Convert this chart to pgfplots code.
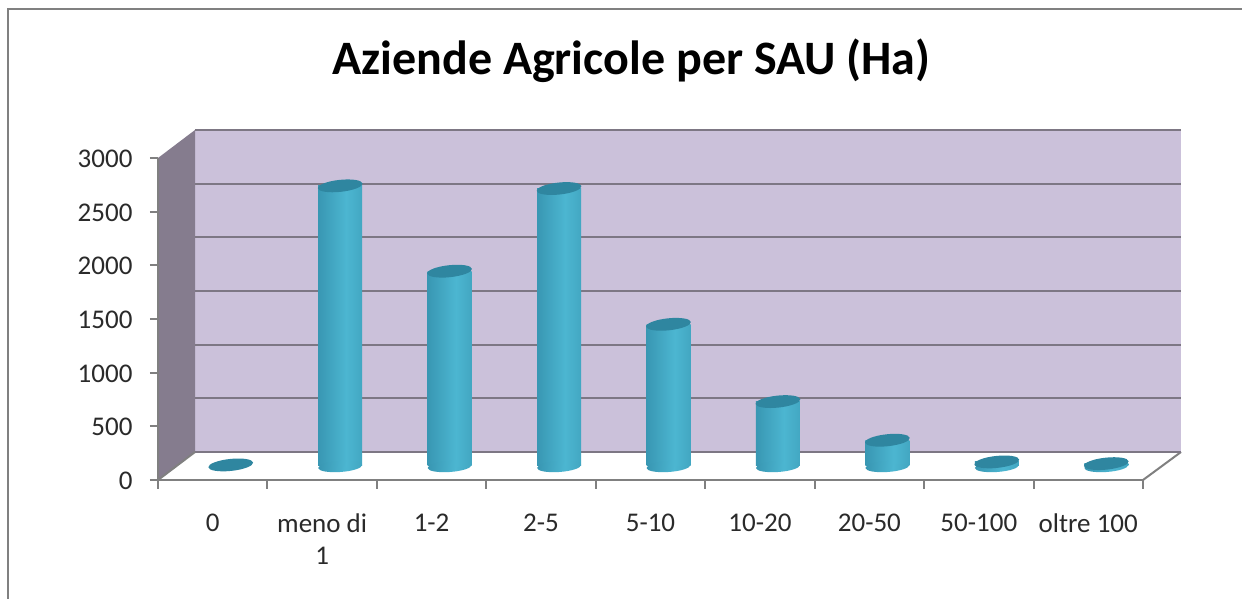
\documentclass[border=0pt]{standalone}
\usepackage{fontspec}
\setmainfont{Carlito}
\usepackage{pgfplots}
\pgfplotsset{compat=1.18}
\definecolor{wall}{HTML}{CBC1DA}
\definecolor{sidewall}{HTML}{857C8E}
\definecolor{gridc}{HTML}{7D7784}
\definecolor{axc}{HTML}{808080}
\definecolor{capc}{HTML}{2F86A0}
\definecolor{barbright}{HTML}{4CB6D1}
\definecolor{barmid}{HTML}{3896B2}
\definecolor{barmidr}{HTML}{42A6C1}
\definecolor{bardark}{HTML}{2A7189}
\definecolor{labc}{HTML}{2A2A2A}
\pgfdeclarehorizontalshading{cyl}{100bp}{
  color(0bp)=(bardark);
  color(5bp)=(bardark);
  color(24bp)=(barmid);
  color(57bp)=(barbright);
  color(76bp)=(barmidr);
  color(91bp)=(bardark);
  color(100bp)=(bardark)}
\pgfdeclareplotmark{captop}{%
  \pgftransformrotate{6}%
  \pgfpathellipse{\pgfpointorigin}{\pgfqpoint{22.5pt}{0pt}}{\pgfqpoint{0pt}{6pt}}%
  \pgfusepathqfill}
\pgfdeclareplotmark{capbase}{%
  \pgftransformyshift{-0.5pt}%
  \pgftransformrotate{4}%
  \pgfpathellipse{\pgfpointorigin}{\pgfqpoint{22pt}{0pt}}{\pgfqpoint{0pt}{5.5pt}}%
  \pgfshadepath{cyl}{-4}\pgfusepath{}}
\pgfplotstableread{
x y
0 10
1 2610
2 1815
3 2585
4 1320
5 600
6 240
7 38
8 22
}\valtable
\begin{document}
\begin{tikzpicture}[x=1pt,y=1pt]
\path[use as bounding box,fill=white] (0,0) rectangle (1242,599);
% outer frame
\draw[axc,line width=2.5pt] (8,0) -- (8,590) -- (1242,590);
% title
\node[font=\fontsize{48}{52}\selectfont\bfseries,text=black] at (631.5,538) {Aziende Agricole per SAU (Ha)};
% back wall with gridlines
\begin{axis}[name=wallaxis,at={(195pt,147pt)},anchor=south west,scale only axis,
  width=986pt,height=322pt,xmin=-0.5,xmax=8.5,ymin=0,ymax=3000,
  axis background/.style={fill=wall},
  axis line style={draw=none},xtick=\empty,ytick={0,500,...,3000},
  ymajorgrids,grid style={gridc,line width=2pt},major tick length=0pt,
  yticklabels={},clip=false]
\addplot[draw=none] coordinates {(0,0)};
\end{axis}
% side wall and floor
\fill[sidewall] (158,119) -- (195,147) -- (195,469) -- (158,441) -- cycle;
\draw[axc,line width=2pt] (158,119) -- (195,147);
\draw[axc,line width=2pt] (1143,119) -- (1181,147);
\draw[gridc,line width=2pt] (195,147) -- (1181,147);
\draw[gridc,line width=2pt] (195,469) -- (1181,469);
% front axes, ticks and labels
\begin{axis}[at={(158pt,119pt)},anchor=south west,scale only axis,
  width=985pt,height=322pt,xmin=-0.5,xmax=8.5,ymin=0,ymax=3000,
  axis lines*=left,axis line style={axc,line width=2pt,-},
  xtick={0,...,8},
  xticklabels={0,{meno di\\1},1-2,2-5,5-10,10-20,20-50,50-100,oltre 100},
  minor xtick={-0.5,0.5,...,8.5},
  ytick={0,500,...,3000},
  major x tick style={draw=none},
  minor x tick style={axc,line width=2pt},
  y tick style={axc,line width=2pt},
  tick align=outside,major tick length=8pt,minor tick length=9pt,
  /pgf/number format/assume math mode=true,
  /pgf/number format/1000 sep={},
  xticklabel style={font=\fontsize{27}{32}\selectfont,text=labc,align=center,anchor=north,yshift=-22pt},
  yticklabel style={font=\fontsize{27}{32}\selectfont,text=labc,xshift=-14pt,yshift=-1pt},
  clip=false]
\addplot[draw=none] coordinates {(0,0)};
\end{axis}
% cylinders, half way into the depth
\begin{axis}[at={(176pt,133pt)},anchor=south west,scale only axis,
  width=985pt,height=322pt,xmin=-0.5,xmax=8.5,ymin=0,ymax=3000,
  hide axis,clip=false]
\addplot[only marks,mark=capbase] coordinates {(1,0)(2,0)(3,0)(4,0)(5,0)(6,0)(7,0)(8,0)};
\pgfplotsset{cylbar/.style={ybar,bar width=44pt,bar shift=0pt,draw=none,shade,shading=cyl,mark=none}}
\addplot[cylbar] coordinates {(1,2610)};
\addplot[cylbar] coordinates {(2,1815)};
\addplot[cylbar] coordinates {(3,2585)};
\addplot[cylbar] coordinates {(4,1320)};
\addplot[cylbar] coordinates {(5,600)};
\addplot[cylbar] coordinates {(6,240)};
\addplot[cylbar] coordinates {(7,38)};
\addplot[cylbar] coordinates {(8,22)};
\addplot[only marks,mark=captop,mark options={fill=capc,draw=none}] table[x=x,y=y] {\valtable};
\end{axis}
\end{tikzpicture}
\end{document}
